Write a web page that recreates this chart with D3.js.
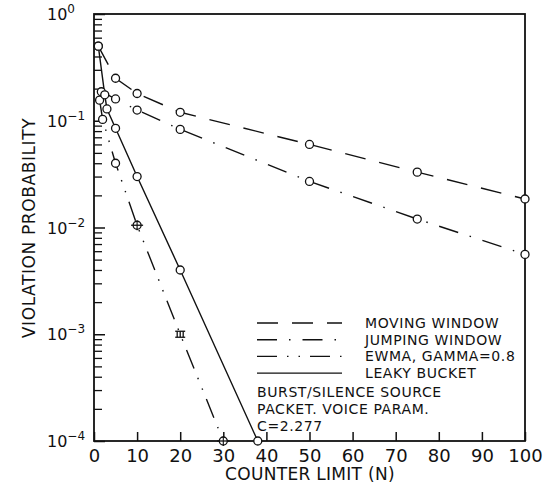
<!DOCTYPE html>
<html>
<head>
<meta charset="utf-8">
<script src="https://cdn.jsdelivr.net/npm/d3@7"></script>
<style>
  html, body { margin: 0; padding: 0; background: #fff; }
  svg text { font-family: "DejaVu Sans", sans-serif; fill: #111; }
</style>
</head>
<body>
<svg id="chart" width="553" height="494"></svg>
<script>
// counter limits and violation probabilities
const movingN = [1, 5, 10, 20, 50, 75, 100];
const movingP = [0.5, 0.25, 0.18, 0.12, 0.06, 0.033, 0.0185];

const jumpingN = [1.7, 5, 10, 20, 50, 75, 100];
const jumpingP = [0.187, 0.16, 0.126, 0.083, 0.027, 0.012, 0.0056];

const ewmaN = [1.3, 2, 5, 10, 20, 30];
const ewmaP = [0.156, 0.103, 0.04, 0.0105, 0.001, 0.0001];

const leakyN = [1, 2.5, 3, 5, 10, 20, 38];
const leakyP = [0.5, 0.175, 0.129, 0.085, 0.03, 0.004, 0.0001];

const legendLabels = ["MOVING WINDOW", "JUMPING WINDOW", "EWMA, GAMMA=0.8", "LEAKY BUCKET"];
const noteLines = ["BURST/SILENCE SOURCE", "PACKET. VOICE PARAM.", "C=2.277"];
const xTicks = [0, 10, 20, 30, 40, 50, 60, 70, 80, 90, 100];
const decades = [0, -1, -2, -3, -4];

const svg = d3.select("#chart");
const ink = "#111";

const x = d3.scaleLinear().domain([0, 100]).range([94, 525]);
const y = d3.scaleLog().domain([1e-4, 1]).range([441, 14]);

const series = [
  { n: movingN, p: movingP, dash: "21 14" },
  { n: jumpingN, p: jumpingP, dash: "20 12 1.5 12" },
  { n: ewmaN, p: ewmaP, dash: "20 10 1.5 10 1.5 10" },
  { n: leakyN, p: leakyP, dash: null }
];

// x axis, ticks pointing up into the plot
svg.append("g")
  .attr("transform", `translate(0,${y(1e-4)})`)
  .call(d3.axisBottom(x).tickValues(xTicks).tickSize(-9).tickPadding(8).tickFormat(d3.format("d")))
  .call(g => g.select(".domain").remove())
  .call(g => g.selectAll("line").attr("stroke", ink).attr("stroke-width", 1.5))
  .call(g => g.selectAll("text").attr("font-size", 18).attr("font-family", "DejaVu Sans").attr("fill", ink));

// y axis, log ticks pointing right
const minor = [];
decades.slice(1).forEach(k => {
  for (let m = 2; m <= 9; m++) minor.push(m * Math.pow(10, k));
});
svg.append("g")
  .attr("transform", `translate(${x(0)},0)`)
  .call(d3.axisLeft(y).tickValues(minor).tickSize(-8).tickFormat(""))
  .call(g => g.select(".domain").remove())
  .call(g => g.selectAll("line").attr("stroke", ink).attr("stroke-width", 1.3));
svg.append("g")
  .attr("transform", `translate(${x(0)},0)`)
  .call(d3.axisLeft(y).tickValues(decades.map(k => Math.pow(10, k))).tickSize(-11).tickFormat(""))
  .call(g => g.select(".domain").remove())
  .call(g => g.selectAll("line").attr("stroke", ink).attr("stroke-width", 1.5));

// decade labels 10^k
const ylab = svg.append("g");
decades.forEach(k => {
  const t = ylab.append("text")
    .attr("x", 47)
    .attr("y", y(Math.pow(10, k)) + 6)
    .attr("font-size", 16);
  t.append("tspan").text("10");
  t.append("tspan").attr("dy", -7).attr("font-size", 12).text(k === 0 ? "0" : "\u2212" + (-k));
});

// frame
svg.append("rect")
  .attr("x", x(0)).attr("y", y(1))
  .attr("width", x(100) - x(0)).attr("height", y(1e-4) - y(1))
  .attr("fill", "none").attr("stroke", ink).attr("stroke-width", 1.8);

// curves
const line = d3.line().x(d => x(d[0])).y(d => y(d[1]));
series.forEach(s => {
  const pts = s.n.map((n, i) => [n, s.p[i]]);
  svg.append("path")
    .datum(pts)
    .attr("d", line)
    .attr("fill", "none")
    .attr("stroke", ink)
    .attr("stroke-width", 1.4)
    .attr("stroke-dasharray", s.dash);
});

// markers
series.forEach((s, si) => {
  s.n.forEach((n, i) => {
    const cx = x(n), cy = y(s.p[i]);
    if (si === 2 && s.p[i] === 0.001) {
      // confidence interval glyph instead of a circle
      const g = svg.append("g").attr("stroke", ink).attr("stroke-width", 1.3);
      g.append("line").attr("x1", cx - 5).attr("x2", cx + 5).attr("y1", cy - 3).attr("y2", cy - 3);
      g.append("line").attr("x1", cx - 5).attr("x2", cx + 5).attr("y1", cy + 3).attr("y2", cy + 3);
      [-3, 0, 3].forEach(dx => g.append("line").attr("x1", cx + dx).attr("x2", cx + dx).attr("y1", cy - 3).attr("y2", cy + 3));
      return;
    }
    svg.append("circle")
      .attr("cx", cx).attr("cy", cy).attr("r", 4)
      .attr("fill", "#fff").attr("stroke", ink).attr("stroke-width", 1.3);
    if (si === 2 && (s.p[i] === 0.0105 || s.p[i] === 0.0001)) {
      svg.append("line").attr("x1", cx - 6).attr("x2", cx + 6).attr("y1", cy).attr("y2", cy)
        .attr("stroke", ink).attr("stroke-width", 1.3);
      svg.append("line").attr("x1", cx).attr("x2", cx).attr("y1", cy - 5).attr("y2", cy + 5)
        .attr("stroke", ink).attr("stroke-width", 1.1);
    }
  });
});

// legend
const legend = svg.append("g");
legendLabels.forEach((label, i) => {
  const by = 328 + i * 16.7;
  legend.append("line")
    .attr("x1", 257).attr("x2", 342)
    .attr("y1", by - 5).attr("y2", by - 5)
    .attr("stroke", ink).attr("stroke-width", 1.4)
    .attr("stroke-dasharray", series[i].dash);
  legend.append("text")
    .attr("x", 365).attr("y", by)
    .attr("font-size", 14).attr("letter-spacing", 0.6)
    .text(label);
});
noteLines.forEach((t, i) => {
  legend.append("text")
    .attr("x", 257).attr("y", 397 + i * 17)
    .attr("font-size", 14).attr("letter-spacing", 0.6)
    .text(t);
});

// axis titles
svg.append("text")
  .attr("x", 310).attr("y", 480)
  .attr("text-anchor", "middle")
  .attr("font-size", 17).attr("letter-spacing", 0.3)
  .text("COUNTER LIMIT (N)");
svg.append("text")
  .attr("transform", "translate(35,228) rotate(-90)")
  .attr("text-anchor", "middle")
  .attr("font-size", 17).attr("letter-spacing", 0.6)
  .text("VIOLATION PROBABILITY");
</script>
</body>
</html>
